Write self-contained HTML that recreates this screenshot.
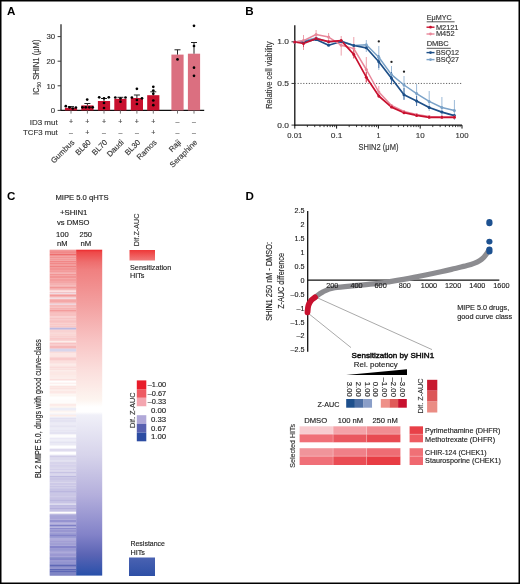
<!DOCTYPE html>
<html><head><meta charset="utf-8"><style>
html,body{margin:0;padding:0;background:#fff;}
svg{display:block;font-family:"Liberation Sans", sans-serif;will-change:transform;}

</style></head><body>
<svg width="520" height="584" viewBox="0 0 520 584">
<rect width="520" height="584" fill="#fff"/>
<text x="7.00" y="14.90" font-size="11.6" text-anchor="start" fill="#000" stroke="#000" stroke-width="0" font-weight="bold" >A</text>
<text x="245.20" y="15.20" font-size="11.6" text-anchor="start" fill="#000" stroke="#000" stroke-width="0" font-weight="bold" >B</text>
<text x="7.00" y="200.30" font-size="11.6" text-anchor="start" fill="#000" stroke="#000" stroke-width="0" font-weight="bold" >C</text>
<text x="245.50" y="200.00" font-size="11.6" text-anchor="start" fill="#000" stroke="#000" stroke-width="0" font-weight="bold" >D</text>
<line x1="61.00" y1="24.20" x2="61.00" y2="111.00" stroke="#3a3a3a" stroke-width="1.4" />
<line x1="60.30" y1="110.40" x2="204.20" y2="110.40" stroke="#111" stroke-width="1.4" />
<line x1="57.60" y1="110.40" x2="61.00" y2="110.40" stroke="#3a3a3a" stroke-width="1" />
<text x="55.20" y="113.20" font-size="7.8" text-anchor="end" fill="#333" stroke="#333" stroke-width="0.14" >0</text>
<line x1="57.60" y1="85.80" x2="61.00" y2="85.80" stroke="#3a3a3a" stroke-width="1" />
<text x="55.20" y="88.60" font-size="7.8" text-anchor="end" fill="#333" stroke="#333" stroke-width="0.14" >10</text>
<line x1="57.60" y1="61.20" x2="61.00" y2="61.20" stroke="#3a3a3a" stroke-width="1" />
<text x="55.20" y="64.00" font-size="7.8" text-anchor="end" fill="#333" stroke="#333" stroke-width="0.14" >20</text>
<line x1="57.60" y1="36.60" x2="61.00" y2="36.60" stroke="#3a3a3a" stroke-width="1" />
<text x="55.20" y="39.40" font-size="7.8" text-anchor="end" fill="#333" stroke="#333" stroke-width="0.14" >30</text>
<rect x="64.90" y="107.80" width="12.20" height="2.60" fill="#c8102e" />
<rect x="81.30" y="105.40" width="12.20" height="5.00" fill="#c8102e" />
<rect x="97.90" y="101.00" width="12.20" height="9.40" fill="#c8102e" />
<rect x="114.30" y="98.80" width="12.20" height="11.60" fill="#c8102e" />
<rect x="130.80" y="98.00" width="12.20" height="12.40" fill="#c8102e" />
<rect x="147.20" y="95.20" width="12.20" height="15.20" fill="#c8102e" />
<rect x="171.40" y="54.60" width="12.20" height="55.80" fill="#db6f80" />
<rect x="187.90" y="53.70" width="12.20" height="56.70" fill="#db6f80" />
<line x1="71.00" y1="110.40" x2="71.00" y2="113.60" stroke="#666" stroke-width="0.9" />
<line x1="71.00" y1="107.80" x2="71.00" y2="106.60" stroke="#222" stroke-width="1" />
<line x1="68.00" y1="106.60" x2="74.00" y2="106.60" stroke="#222" stroke-width="1" />
<line x1="87.40" y1="110.40" x2="87.40" y2="113.60" stroke="#666" stroke-width="0.9" />
<line x1="87.40" y1="105.40" x2="87.40" y2="103.50" stroke="#222" stroke-width="1" />
<line x1="84.40" y1="103.50" x2="90.40" y2="103.50" stroke="#222" stroke-width="1" />
<line x1="104.00" y1="110.40" x2="104.00" y2="113.60" stroke="#666" stroke-width="0.9" />
<line x1="104.00" y1="101.00" x2="104.00" y2="98.50" stroke="#222" stroke-width="1" />
<line x1="101.00" y1="98.50" x2="107.00" y2="98.50" stroke="#222" stroke-width="1" />
<line x1="120.40" y1="110.40" x2="120.40" y2="113.60" stroke="#666" stroke-width="0.9" />
<line x1="120.40" y1="98.80" x2="120.40" y2="97.30" stroke="#222" stroke-width="1" />
<line x1="117.40" y1="97.30" x2="123.40" y2="97.30" stroke="#222" stroke-width="1" />
<line x1="136.90" y1="110.40" x2="136.90" y2="113.60" stroke="#666" stroke-width="0.9" />
<line x1="136.90" y1="98.00" x2="136.90" y2="95.00" stroke="#222" stroke-width="1" />
<line x1="133.90" y1="95.00" x2="139.90" y2="95.00" stroke="#222" stroke-width="1" />
<line x1="153.30" y1="110.40" x2="153.30" y2="113.60" stroke="#666" stroke-width="0.9" />
<line x1="153.30" y1="95.20" x2="153.30" y2="91.80" stroke="#222" stroke-width="1" />
<line x1="150.30" y1="91.80" x2="156.30" y2="91.80" stroke="#222" stroke-width="1" />
<line x1="177.50" y1="110.40" x2="177.50" y2="113.60" stroke="#666" stroke-width="0.9" />
<line x1="177.50" y1="54.60" x2="177.50" y2="49.80" stroke="#222" stroke-width="1" />
<line x1="174.50" y1="49.80" x2="180.50" y2="49.80" stroke="#222" stroke-width="1" />
<line x1="194.00" y1="110.40" x2="194.00" y2="113.60" stroke="#666" stroke-width="0.9" />
<line x1="194.00" y1="53.70" x2="194.00" y2="42.50" stroke="#222" stroke-width="1" />
<line x1="191.00" y1="42.50" x2="197.00" y2="42.50" stroke="#222" stroke-width="1" />
<circle cx="65.80" cy="106.20" r="1.35" fill="#000"/>
<circle cx="69.50" cy="107.30" r="1.35" fill="#000"/>
<circle cx="72.80" cy="108.50" r="1.35" fill="#000"/>
<circle cx="75.90" cy="107.50" r="1.35" fill="#000"/>
<circle cx="82.40" cy="107.30" r="1.35" fill="#000"/>
<circle cx="85.80" cy="107.30" r="1.35" fill="#000"/>
<circle cx="89.30" cy="107.30" r="1.35" fill="#000"/>
<circle cx="92.70" cy="107.30" r="1.35" fill="#000"/>
<circle cx="87.20" cy="99.60" r="1.35" fill="#000"/>
<circle cx="99.20" cy="97.30" r="1.35" fill="#000"/>
<circle cx="104.00" cy="98.30" r="1.35" fill="#000"/>
<circle cx="108.80" cy="97.30" r="1.35" fill="#000"/>
<circle cx="104.00" cy="103.00" r="1.35" fill="#000"/>
<circle cx="104.00" cy="108.00" r="1.35" fill="#000"/>
<circle cx="115.30" cy="97.50" r="1.35" fill="#000"/>
<circle cx="125.50" cy="97.50" r="1.35" fill="#000"/>
<circle cx="120.50" cy="98.50" r="1.35" fill="#000"/>
<circle cx="120.50" cy="101.70" r="1.35" fill="#000"/>
<circle cx="131.90" cy="97.50" r="1.35" fill="#000"/>
<circle cx="136.90" cy="88.80" r="1.35" fill="#000"/>
<circle cx="136.90" cy="100.00" r="1.35" fill="#000"/>
<circle cx="136.90" cy="104.00" r="1.35" fill="#000"/>
<circle cx="142.00" cy="98.30" r="1.35" fill="#000"/>
<circle cx="153.30" cy="86.80" r="1.35" fill="#000"/>
<circle cx="153.30" cy="90.50" r="1.35" fill="#000"/>
<circle cx="153.30" cy="93.80" r="1.35" fill="#000"/>
<circle cx="153.30" cy="100.50" r="1.35" fill="#000"/>
<circle cx="153.30" cy="105.20" r="1.35" fill="#000"/>
<circle cx="177.50" cy="59.40" r="1.35" fill="#000"/>
<circle cx="194.00" cy="25.80" r="1.35" fill="#000"/>
<circle cx="194.00" cy="46.00" r="1.35" fill="#000"/>
<circle cx="194.00" cy="67.70" r="1.35" fill="#000"/>
<circle cx="194.00" cy="75.80" r="1.35" fill="#000"/>
<text x="38.90" y="95.10" font-size="9.2" text-anchor="start" fill="#333" stroke="#333" stroke-width="0.14" textLength="55.6" lengthAdjust="spacingAndGlyphs" transform="rotate(-90 38.90 95.10)" >IC<tspan font-size="6" dy="1.8">50</tspan><tspan dy="-1.8"> SHIN1 (μM)</tspan></text>
<text x="57.70" y="124.60" font-size="7.8" text-anchor="end" fill="#333" stroke="#333" stroke-width="0.14" textLength="28" lengthAdjust="spacingAndGlyphs" >ID3 mut</text>
<text x="57.70" y="135.00" font-size="7.8" text-anchor="end" fill="#333" stroke="#333" stroke-width="0.14" textLength="34.7" lengthAdjust="spacingAndGlyphs" >TCF3 mut</text>
<text x="71.00" y="124.20" font-size="7" text-anchor="middle" fill="#444" stroke="#444" stroke-width="0.14" >+</text>
<text x="71.00" y="134.60" font-size="7" text-anchor="middle" fill="#444" stroke="#444" stroke-width="0.14" >–</text>
<text x="87.40" y="124.20" font-size="7" text-anchor="middle" fill="#444" stroke="#444" stroke-width="0.14" >+</text>
<text x="87.40" y="134.60" font-size="7" text-anchor="middle" fill="#444" stroke="#444" stroke-width="0.14" >+</text>
<text x="104.00" y="124.20" font-size="7" text-anchor="middle" fill="#444" stroke="#444" stroke-width="0.14" >+</text>
<text x="104.00" y="134.60" font-size="7" text-anchor="middle" fill="#444" stroke="#444" stroke-width="0.14" >–</text>
<text x="120.40" y="124.20" font-size="7" text-anchor="middle" fill="#444" stroke="#444" stroke-width="0.14" >+</text>
<text x="120.40" y="134.60" font-size="7" text-anchor="middle" fill="#444" stroke="#444" stroke-width="0.14" >–</text>
<text x="136.90" y="124.20" font-size="7" text-anchor="middle" fill="#444" stroke="#444" stroke-width="0.14" >+</text>
<text x="136.90" y="134.60" font-size="7" text-anchor="middle" fill="#444" stroke="#444" stroke-width="0.14" >–</text>
<text x="153.30" y="124.20" font-size="7" text-anchor="middle" fill="#444" stroke="#444" stroke-width="0.14" >+</text>
<text x="153.30" y="134.60" font-size="7" text-anchor="middle" fill="#444" stroke="#444" stroke-width="0.14" >+</text>
<text x="177.50" y="124.20" font-size="7" text-anchor="middle" fill="#444" stroke="#444" stroke-width="0.14" >–</text>
<text x="177.50" y="134.60" font-size="7" text-anchor="middle" fill="#444" stroke="#444" stroke-width="0.14" >–</text>
<text x="194.00" y="124.20" font-size="7" text-anchor="middle" fill="#444" stroke="#444" stroke-width="0.14" >–</text>
<text x="194.00" y="134.60" font-size="7" text-anchor="middle" fill="#444" stroke="#444" stroke-width="0.14" >–</text>
<text x="74.90" y="142.90" font-size="7.8" text-anchor="end" fill="#333" stroke="#333" stroke-width="0.14" transform="rotate(-45 74.90 142.90)" >Gumbus</text>
<text x="91.30" y="142.90" font-size="7.8" text-anchor="end" fill="#333" stroke="#333" stroke-width="0.14" transform="rotate(-45 91.30 142.90)" >BL60</text>
<text x="107.90" y="142.90" font-size="7.8" text-anchor="end" fill="#333" stroke="#333" stroke-width="0.14" transform="rotate(-45 107.90 142.90)" >BL70</text>
<text x="124.30" y="142.90" font-size="7.8" text-anchor="end" fill="#333" stroke="#333" stroke-width="0.14" transform="rotate(-45 124.30 142.90)" >Daudi</text>
<text x="140.80" y="142.90" font-size="7.8" text-anchor="end" fill="#333" stroke="#333" stroke-width="0.14" transform="rotate(-45 140.80 142.90)" >BL30</text>
<text x="157.20" y="142.90" font-size="7.8" text-anchor="end" fill="#333" stroke="#333" stroke-width="0.14" transform="rotate(-45 157.20 142.90)" >Ramos</text>
<text x="181.40" y="142.90" font-size="7.8" text-anchor="end" fill="#333" stroke="#333" stroke-width="0.14" transform="rotate(-45 181.40 142.90)" >Raji</text>
<text x="197.90" y="142.90" font-size="7.8" text-anchor="end" fill="#333" stroke="#333" stroke-width="0.14" transform="rotate(-45 197.90 142.90)" >Seraphine</text>
<line x1="294.80" y1="25.20" x2="294.80" y2="125.80" stroke="#111" stroke-width="1.3" />
<line x1="294.20" y1="125.10" x2="462.00" y2="125.10" stroke="#111" stroke-width="1.3" />
<line x1="291.50" y1="125.10" x2="294.80" y2="125.10" stroke="#222" stroke-width="0.9" />
<text x="289.00" y="127.70" font-size="7.2" text-anchor="end" fill="#333" stroke="#333" stroke-width="0.14" textLength="11.7" lengthAdjust="spacingAndGlyphs" >0.0</text>
<line x1="291.50" y1="83.45" x2="294.80" y2="83.45" stroke="#222" stroke-width="0.9" />
<text x="289.00" y="86.05" font-size="7.2" text-anchor="end" fill="#333" stroke="#333" stroke-width="0.14" textLength="11.7" lengthAdjust="spacingAndGlyphs" >0.5</text>
<line x1="291.50" y1="41.80" x2="294.80" y2="41.80" stroke="#222" stroke-width="0.9" />
<text x="289.00" y="44.40" font-size="7.2" text-anchor="end" fill="#333" stroke="#333" stroke-width="0.14" textLength="11.7" lengthAdjust="spacingAndGlyphs" >1.0</text>
<line x1="294.80" y1="125.10" x2="294.80" y2="128.60" stroke="#111" stroke-width="1" />
<line x1="307.38" y1="125.10" x2="307.38" y2="127.10" stroke="#111" stroke-width="0.8" />
<line x1="314.74" y1="125.10" x2="314.74" y2="127.10" stroke="#111" stroke-width="0.8" />
<line x1="319.97" y1="125.10" x2="319.97" y2="127.10" stroke="#111" stroke-width="0.8" />
<line x1="324.02" y1="125.10" x2="324.02" y2="127.10" stroke="#111" stroke-width="0.8" />
<line x1="327.33" y1="125.10" x2="327.33" y2="127.10" stroke="#111" stroke-width="0.8" />
<line x1="330.13" y1="125.10" x2="330.13" y2="127.10" stroke="#111" stroke-width="0.8" />
<line x1="332.55" y1="125.10" x2="332.55" y2="127.10" stroke="#111" stroke-width="0.8" />
<line x1="334.69" y1="125.10" x2="334.69" y2="127.10" stroke="#111" stroke-width="0.8" />
<line x1="336.60" y1="125.10" x2="336.60" y2="128.60" stroke="#111" stroke-width="1" />
<line x1="349.18" y1="125.10" x2="349.18" y2="127.10" stroke="#111" stroke-width="0.8" />
<line x1="356.54" y1="125.10" x2="356.54" y2="127.10" stroke="#111" stroke-width="0.8" />
<line x1="361.77" y1="125.10" x2="361.77" y2="127.10" stroke="#111" stroke-width="0.8" />
<line x1="365.82" y1="125.10" x2="365.82" y2="127.10" stroke="#111" stroke-width="0.8" />
<line x1="369.13" y1="125.10" x2="369.13" y2="127.10" stroke="#111" stroke-width="0.8" />
<line x1="371.93" y1="125.10" x2="371.93" y2="127.10" stroke="#111" stroke-width="0.8" />
<line x1="374.35" y1="125.10" x2="374.35" y2="127.10" stroke="#111" stroke-width="0.8" />
<line x1="376.49" y1="125.10" x2="376.49" y2="127.10" stroke="#111" stroke-width="0.8" />
<line x1="378.40" y1="125.10" x2="378.40" y2="128.60" stroke="#111" stroke-width="1" />
<line x1="390.98" y1="125.10" x2="390.98" y2="127.10" stroke="#111" stroke-width="0.8" />
<line x1="398.34" y1="125.10" x2="398.34" y2="127.10" stroke="#111" stroke-width="0.8" />
<line x1="403.57" y1="125.10" x2="403.57" y2="127.10" stroke="#111" stroke-width="0.8" />
<line x1="407.62" y1="125.10" x2="407.62" y2="127.10" stroke="#111" stroke-width="0.8" />
<line x1="410.93" y1="125.10" x2="410.93" y2="127.10" stroke="#111" stroke-width="0.8" />
<line x1="413.73" y1="125.10" x2="413.73" y2="127.10" stroke="#111" stroke-width="0.8" />
<line x1="416.15" y1="125.10" x2="416.15" y2="127.10" stroke="#111" stroke-width="0.8" />
<line x1="418.29" y1="125.10" x2="418.29" y2="127.10" stroke="#111" stroke-width="0.8" />
<line x1="420.20" y1="125.10" x2="420.20" y2="128.60" stroke="#111" stroke-width="1" />
<line x1="432.78" y1="125.10" x2="432.78" y2="127.10" stroke="#111" stroke-width="0.8" />
<line x1="440.14" y1="125.10" x2="440.14" y2="127.10" stroke="#111" stroke-width="0.8" />
<line x1="445.37" y1="125.10" x2="445.37" y2="127.10" stroke="#111" stroke-width="0.8" />
<line x1="449.42" y1="125.10" x2="449.42" y2="127.10" stroke="#111" stroke-width="0.8" />
<line x1="452.73" y1="125.10" x2="452.73" y2="127.10" stroke="#111" stroke-width="0.8" />
<line x1="455.53" y1="125.10" x2="455.53" y2="127.10" stroke="#111" stroke-width="0.8" />
<line x1="457.95" y1="125.10" x2="457.95" y2="127.10" stroke="#111" stroke-width="0.8" />
<line x1="460.09" y1="125.10" x2="460.09" y2="127.10" stroke="#111" stroke-width="0.8" />
<line x1="462.00" y1="125.10" x2="462.00" y2="128.60" stroke="#111" stroke-width="1" />
<text x="294.80" y="137.70" font-size="8" text-anchor="middle" fill="#333" stroke="#333" stroke-width="0.14" textLength="14.9" lengthAdjust="spacingAndGlyphs" >0.01</text>
<text x="336.60" y="137.70" font-size="8" text-anchor="middle" fill="#333" stroke="#333" stroke-width="0.14" textLength="11.7" lengthAdjust="spacingAndGlyphs" >0.1</text>
<text x="378.40" y="137.70" font-size="8" text-anchor="middle" fill="#333" stroke="#333" stroke-width="0.14" textLength="4" lengthAdjust="spacingAndGlyphs" >1</text>
<text x="420.20" y="137.70" font-size="8" text-anchor="middle" fill="#333" stroke="#333" stroke-width="0.14" textLength="8.9" lengthAdjust="spacingAndGlyphs" >10</text>
<text x="462.00" y="137.70" font-size="8" text-anchor="middle" fill="#333" stroke="#333" stroke-width="0.14" textLength="13" lengthAdjust="spacingAndGlyphs" >100</text>
<text x="378.50" y="149.80" font-size="8.3" text-anchor="middle" fill="#333" stroke="#333" stroke-width="0.14" textLength="39.9" lengthAdjust="spacingAndGlyphs" >SHIN2 (μM)</text>
<text x="271.70" y="108.80" font-size="8.8" text-anchor="start" fill="#333" stroke="#333" stroke-width="0.14" textLength="67.2" lengthAdjust="spacingAndGlyphs" transform="rotate(-90 271.70 108.80)" >Relative cell viability</text>
<line x1="294.80" y1="83.45" x2="462.70" y2="83.45" stroke="#555" stroke-width="0.9" stroke-dasharray="1.2 1.6"/>
<line x1="303.50" y1="35.00" x2="303.50" y2="50.00" stroke="#eda0ab" stroke-width="1" />
<line x1="316.10" y1="30.00" x2="316.10" y2="40.00" stroke="#eda0ab" stroke-width="1" />
<line x1="328.60" y1="33.00" x2="328.60" y2="42.00" stroke="#eda0ab" stroke-width="1" />
<line x1="341.20" y1="36.00" x2="341.20" y2="55.60" stroke="#eda0ab" stroke-width="1" />
<line x1="353.80" y1="37.00" x2="353.80" y2="59.00" stroke="#eda0ab" stroke-width="1" />
<line x1="366.30" y1="57.00" x2="366.30" y2="83.00" stroke="#eda0ab" stroke-width="1" />
<line x1="378.80" y1="86.00" x2="378.80" y2="98.00" stroke="#eda0ab" stroke-width="1" />
<line x1="366.30" y1="40.00" x2="366.30" y2="52.00" stroke="#9cbad8" stroke-width="1" />
<line x1="378.80" y1="46.00" x2="378.80" y2="70.00" stroke="#9cbad8" stroke-width="1" />
<line x1="391.50" y1="66.00" x2="391.50" y2="85.00" stroke="#9cbad8" stroke-width="1" />
<line x1="404.00" y1="76.00" x2="404.00" y2="99.00" stroke="#9cbad8" stroke-width="1" />
<line x1="416.60" y1="84.00" x2="416.60" y2="104.00" stroke="#9cbad8" stroke-width="1" />
<line x1="429.20" y1="91.00" x2="429.20" y2="111.00" stroke="#9cbad8" stroke-width="1" />
<line x1="441.90" y1="97.00" x2="441.90" y2="118.00" stroke="#9cbad8" stroke-width="1" />
<line x1="454.40" y1="100.00" x2="454.40" y2="120.00" stroke="#9cbad8" stroke-width="1" />
<line x1="378.80" y1="55.00" x2="378.80" y2="68.00" stroke="#4a74a8" stroke-width="1" />
<line x1="391.50" y1="72.00" x2="391.50" y2="84.00" stroke="#4a74a8" stroke-width="1" />
<line x1="404.00" y1="88.00" x2="404.00" y2="100.00" stroke="#4a74a8" stroke-width="1" />
<line x1="416.60" y1="96.00" x2="416.60" y2="106.00" stroke="#4a74a8" stroke-width="1" />
<line x1="303.50" y1="40.00" x2="303.50" y2="47.00" stroke="#d84a60" stroke-width="1" />
<line x1="353.80" y1="50.00" x2="353.80" y2="58.00" stroke="#d84a60" stroke-width="1" />
<line x1="366.30" y1="72.00" x2="366.30" y2="82.00" stroke="#d84a60" stroke-width="1" />
<polyline points="294.8,42.0 303.5,41.0 316.1,38.0 328.6,42.0 341.2,41.0 353.8,45.5 366.3,44.8 378.8,57.3 391.5,74.6 404.0,85.0 416.6,93.6 429.2,101.4 441.9,107.5 454.4,110.6" fill="none" stroke="#7aa2c8" stroke-width="1.5" stroke-linejoin="round"/>
<polyline points="294.8,42.0 303.5,42.0 316.1,39.4 328.6,45.2 341.2,41.5 353.8,45.5 366.3,47.8 378.8,61.7 391.5,78.3 404.0,94.8 416.6,100.9 429.2,107.5 441.9,112.1 454.4,115.6" fill="none" stroke="#1d4f88" stroke-width="1.7" stroke-linejoin="round"/>
<polyline points="294.8,42.0 303.5,40.6 316.1,34.5 328.6,37.1 341.2,45.2 353.8,48.6 366.3,69.5 378.8,92.1 391.5,105.5 404.0,111.5 416.6,114.5 429.2,116.5 441.9,117.0 454.4,117.0" fill="none" stroke="#e8879a" stroke-width="1.5" stroke-linejoin="round"/>
<polyline points="294.8,42.0 303.5,43.5 316.1,38.6 328.6,41.7 341.2,40.6 353.8,54.4 366.3,77.2 378.8,96.0 391.5,107.1 404.0,112.7 416.6,115.4 429.2,117.3 441.9,117.3 454.4,117.3" fill="none" stroke="#c8102e" stroke-width="1.7" stroke-linejoin="round"/>
<circle cx="294.80" cy="42.00" r="1.5" fill="#7aa2c8"/>
<circle cx="303.50" cy="41.00" r="1.5" fill="#7aa2c8"/>
<circle cx="316.10" cy="38.00" r="1.5" fill="#7aa2c8"/>
<circle cx="328.60" cy="42.00" r="1.5" fill="#7aa2c8"/>
<circle cx="341.20" cy="41.00" r="1.5" fill="#7aa2c8"/>
<circle cx="353.80" cy="45.50" r="1.5" fill="#7aa2c8"/>
<circle cx="366.30" cy="44.80" r="1.5" fill="#7aa2c8"/>
<circle cx="378.80" cy="57.30" r="1.5" fill="#7aa2c8"/>
<circle cx="391.50" cy="74.60" r="1.5" fill="#7aa2c8"/>
<circle cx="404.00" cy="85.00" r="1.5" fill="#7aa2c8"/>
<circle cx="416.60" cy="93.60" r="1.5" fill="#7aa2c8"/>
<circle cx="429.20" cy="101.40" r="1.5" fill="#7aa2c8"/>
<circle cx="441.90" cy="107.50" r="1.5" fill="#7aa2c8"/>
<circle cx="454.40" cy="110.60" r="1.5" fill="#7aa2c8"/>
<circle cx="294.80" cy="42.00" r="1.5" fill="#1d4f88"/>
<circle cx="303.50" cy="42.00" r="1.5" fill="#1d4f88"/>
<circle cx="316.10" cy="39.40" r="1.5" fill="#1d4f88"/>
<circle cx="328.60" cy="45.20" r="1.5" fill="#1d4f88"/>
<circle cx="341.20" cy="41.50" r="1.5" fill="#1d4f88"/>
<circle cx="353.80" cy="45.50" r="1.5" fill="#1d4f88"/>
<circle cx="366.30" cy="47.80" r="1.5" fill="#1d4f88"/>
<circle cx="378.80" cy="61.70" r="1.5" fill="#1d4f88"/>
<circle cx="391.50" cy="78.30" r="1.5" fill="#1d4f88"/>
<circle cx="404.00" cy="94.80" r="1.5" fill="#1d4f88"/>
<circle cx="416.60" cy="100.90" r="1.5" fill="#1d4f88"/>
<circle cx="429.20" cy="107.50" r="1.5" fill="#1d4f88"/>
<circle cx="441.90" cy="112.10" r="1.5" fill="#1d4f88"/>
<circle cx="454.40" cy="115.60" r="1.5" fill="#1d4f88"/>
<circle cx="294.80" cy="42.00" r="1.5" fill="#e8879a"/>
<circle cx="303.50" cy="40.60" r="1.5" fill="#e8879a"/>
<circle cx="316.10" cy="34.50" r="1.5" fill="#e8879a"/>
<circle cx="328.60" cy="37.10" r="1.5" fill="#e8879a"/>
<circle cx="341.20" cy="45.20" r="1.5" fill="#e8879a"/>
<circle cx="353.80" cy="48.60" r="1.5" fill="#e8879a"/>
<circle cx="366.30" cy="69.50" r="1.5" fill="#e8879a"/>
<circle cx="378.80" cy="92.10" r="1.5" fill="#e8879a"/>
<circle cx="391.50" cy="105.50" r="1.5" fill="#e8879a"/>
<circle cx="404.00" cy="111.50" r="1.5" fill="#e8879a"/>
<circle cx="416.60" cy="114.50" r="1.5" fill="#e8879a"/>
<circle cx="429.20" cy="116.50" r="1.5" fill="#e8879a"/>
<circle cx="441.90" cy="117.00" r="1.5" fill="#e8879a"/>
<circle cx="454.40" cy="117.00" r="1.5" fill="#e8879a"/>
<circle cx="294.80" cy="42.00" r="1.5" fill="#c8102e"/>
<circle cx="303.50" cy="43.50" r="1.5" fill="#c8102e"/>
<circle cx="316.10" cy="38.60" r="1.5" fill="#c8102e"/>
<circle cx="328.60" cy="41.70" r="1.5" fill="#c8102e"/>
<circle cx="341.20" cy="40.60" r="1.5" fill="#c8102e"/>
<circle cx="353.80" cy="54.40" r="1.5" fill="#c8102e"/>
<circle cx="366.30" cy="77.20" r="1.5" fill="#c8102e"/>
<circle cx="378.80" cy="96.00" r="1.5" fill="#c8102e"/>
<circle cx="391.50" cy="107.10" r="1.5" fill="#c8102e"/>
<circle cx="404.00" cy="112.70" r="1.5" fill="#c8102e"/>
<circle cx="416.60" cy="115.40" r="1.5" fill="#c8102e"/>
<circle cx="429.20" cy="117.30" r="1.5" fill="#c8102e"/>
<circle cx="441.90" cy="117.30" r="1.5" fill="#c8102e"/>
<circle cx="454.40" cy="117.30" r="1.5" fill="#c8102e"/>
<circle cx="378.80" cy="41.40" r="1.15" fill="#222"/>
<circle cx="391.50" cy="61.90" r="1.15" fill="#222"/>
<circle cx="404.00" cy="71.70" r="1.15" fill="#222"/>
<text x="426.70" y="20.10" font-size="6.9" text-anchor="start" fill="#333" stroke="#333" stroke-width="0.14" textLength="25" lengthAdjust="spacingAndGlyphs" >EμMYC</text>
<line x1="426.70" y1="21.80" x2="454.60" y2="21.80" stroke="#444" stroke-width="0.9" />
<text x="426.70" y="46.30" font-size="6.9" text-anchor="start" fill="#333" stroke="#333" stroke-width="0.14" textLength="22.1" lengthAdjust="spacingAndGlyphs" >DMBC</text>
<line x1="426.70" y1="48.30" x2="450.80" y2="48.30" stroke="#444" stroke-width="0.9" />
<line x1="426.50" y1="27.20" x2="434.50" y2="27.20" stroke="#c8102e" stroke-width="1.4" />
<circle cx="430.50" cy="27.20" r="1.4" fill="#c8102e"/>
<text x="435.90" y="29.60" font-size="6.9" text-anchor="start" fill="#333" stroke="#333" stroke-width="0.14" textLength="22.6" lengthAdjust="spacingAndGlyphs" >M2121</text>
<line x1="426.50" y1="34.00" x2="434.50" y2="34.00" stroke="#e8879a" stroke-width="1.4" />
<circle cx="430.50" cy="34.00" r="1.4" fill="#e8879a"/>
<text x="435.90" y="36.40" font-size="6.9" text-anchor="start" fill="#333" stroke="#333" stroke-width="0.14" textLength="18.7" lengthAdjust="spacingAndGlyphs" >M452</text>
<line x1="426.50" y1="52.60" x2="434.50" y2="52.60" stroke="#1d4f88" stroke-width="1.4" />
<circle cx="430.50" cy="52.60" r="1.4" fill="#1d4f88"/>
<text x="435.90" y="55.00" font-size="6.9" text-anchor="start" fill="#333" stroke="#333" stroke-width="0.14" textLength="23" lengthAdjust="spacingAndGlyphs" >BSQ12</text>
<line x1="426.50" y1="59.60" x2="434.50" y2="59.60" stroke="#7aa2c8" stroke-width="1.4" />
<circle cx="430.50" cy="59.60" r="1.4" fill="#7aa2c8"/>
<text x="435.90" y="62.00" font-size="6.9" text-anchor="start" fill="#333" stroke="#333" stroke-width="0.14" textLength="23" lengthAdjust="spacingAndGlyphs" >BSQ27</text>
<text x="82.00" y="199.70" font-size="7.2" text-anchor="middle" fill="#222" stroke="#222" stroke-width="0.14" textLength="53.2" lengthAdjust="spacingAndGlyphs" >MIPE 5.0 qHTS</text>
<text x="73.70" y="215.30" font-size="7.2" text-anchor="middle" fill="#222" stroke="#222" stroke-width="0.14" textLength="27.5" lengthAdjust="spacingAndGlyphs" >+SHIN1</text>
<text x="73.20" y="224.70" font-size="7.2" text-anchor="middle" fill="#222" stroke="#222" stroke-width="0.14" textLength="32.5" lengthAdjust="spacingAndGlyphs" >vs DMSO</text>
<text x="62.40" y="236.60" font-size="7.2" text-anchor="middle" fill="#222" stroke="#222" stroke-width="0.14" textLength="12.7" lengthAdjust="spacingAndGlyphs" >100</text>
<text x="85.80" y="236.60" font-size="7.2" text-anchor="middle" fill="#222" stroke="#222" stroke-width="0.14" textLength="12.5" lengthAdjust="spacingAndGlyphs" >250</text>
<text x="62.30" y="246.10" font-size="7.2" text-anchor="middle" fill="#222" stroke="#222" stroke-width="0.14" textLength="10.5" lengthAdjust="spacingAndGlyphs" >nM</text>
<text x="85.90" y="246.10" font-size="7.2" text-anchor="middle" fill="#222" stroke="#222" stroke-width="0.14" textLength="10.7" lengthAdjust="spacingAndGlyphs" >nM</text>
<defs><linearGradient id="g2" x1="0" y1="0" x2="0" y2="1"><stop offset="0.0000" stop-color="#ec282c"/><stop offset="0.0071" stop-color="#ee4848"/><stop offset="0.0377" stop-color="#ee6e6e"/><stop offset="0.0623" stop-color="#f08080"/><stop offset="0.1697" stop-color="#f3a0a0"/><stop offset="0.2771" stop-color="#f8c3c3"/><stop offset="0.3691" stop-color="#fbdedc"/><stop offset="0.4612" stop-color="#fdf5f0"/><stop offset="0.4827" stop-color="#ffffff"/><stop offset="0.4980" stop-color="#ffffff"/><stop offset="0.5072" stop-color="#f0f0f8"/><stop offset="0.6299" stop-color="#d7d4eb"/><stop offset="0.7527" stop-color="#b4afdc"/><stop offset="0.8754" stop-color="#8282c8"/><stop offset="0.9368" stop-color="#5a64b4"/><stop offset="1.0000" stop-color="#2850aa"/></linearGradient></defs>
<rect x="76.10" y="249.70" width="26.10" height="325.90" fill="url(#g2)" />
<rect x="49.70" y="249.70" width="26.40" height="1.05" fill="#f18f8f" />
<rect x="49.70" y="250.70" width="26.40" height="1.05" fill="#ee6d6d" />
<rect x="49.70" y="251.70" width="26.40" height="2.05" fill="#f18888" />
<rect x="49.70" y="253.70" width="26.40" height="2.05" fill="#ee6d6d" />
<rect x="49.70" y="255.70" width="26.40" height="1.05" fill="#f19090" />
<rect x="49.70" y="256.70" width="26.40" height="2.05" fill="#f29393" />
<rect x="49.70" y="258.70" width="26.40" height="2.05" fill="#f29a9a" />
<rect x="49.70" y="260.70" width="26.40" height="2.05" fill="#f18787" />
<rect x="49.70" y="262.70" width="26.40" height="2.05" fill="#f18888" />
<rect x="49.70" y="264.70" width="26.40" height="1.05" fill="#f18d8d" />
<rect x="49.70" y="265.70" width="26.40" height="2.05" fill="#f08282" />
<rect x="49.70" y="267.70" width="26.40" height="3.05" fill="#f29393" />
<rect x="49.70" y="270.70" width="26.40" height="1.05" fill="#f08181" />
<rect x="49.70" y="271.70" width="26.40" height="1.05" fill="#f29393" />
<rect x="49.70" y="272.70" width="26.40" height="1.05" fill="#f5acac" />
<rect x="49.70" y="273.70" width="26.40" height="2.05" fill="#f29494" />
<rect x="49.70" y="275.70" width="26.40" height="3.05" fill="#f29595" />
<rect x="49.70" y="278.70" width="26.40" height="3.05" fill="#f39d9d" />
<rect x="49.70" y="281.70" width="26.40" height="1.05" fill="#f08484" />
<rect x="49.70" y="282.70" width="26.40" height="3.05" fill="#f5b1b1" />
<rect x="49.70" y="285.70" width="26.40" height="1.05" fill="#f4aaaa" />
<rect x="49.70" y="286.70" width="26.40" height="2.05" fill="#f29898" />
<rect x="49.70" y="288.70" width="26.40" height="1.05" fill="#f4a7a7" />
<rect x="49.70" y="289.70" width="26.40" height="1.05" fill="#f6b4b4" />
<rect x="49.70" y="290.70" width="26.40" height="1.05" fill="#ffffff" />
<rect x="49.70" y="291.70" width="26.40" height="1.05" fill="#f39d9d" />
<rect x="49.70" y="292.70" width="26.40" height="1.05" fill="#e7e6f3" />
<rect x="49.70" y="293.70" width="26.40" height="1.05" fill="#f6b4b4" />
<rect x="49.70" y="294.70" width="26.40" height="2.05" fill="#f39b9b" />
<rect x="49.70" y="296.70" width="26.40" height="1.05" fill="#f5aeae" />
<rect x="49.70" y="297.70" width="26.40" height="1.05" fill="#efeff8" />
<rect x="49.70" y="298.70" width="26.40" height="1.05" fill="#f4a9a9" />
<rect x="49.70" y="299.70" width="26.40" height="3.05" fill="#f4a7a7" />
<rect x="49.70" y="302.70" width="26.40" height="1.05" fill="#f5abab" />
<rect x="49.70" y="303.70" width="26.40" height="1.05" fill="#e9e8f4" />
<rect x="49.70" y="304.70" width="26.40" height="1.05" fill="#f3a3a3" />
<rect x="49.70" y="305.70" width="26.40" height="2.05" fill="#f7bcbc" />
<rect x="49.70" y="307.70" width="26.40" height="2.05" fill="#f6b2b2" />
<rect x="49.70" y="309.70" width="26.40" height="2.05" fill="#f39c9c" />
<rect x="49.70" y="311.70" width="26.40" height="1.05" fill="#f4a9a9" />
<rect x="49.70" y="312.70" width="26.40" height="1.05" fill="#f7b9b9" />
<rect x="49.70" y="313.70" width="26.40" height="1.05" fill="#f5adad" />
<rect x="49.70" y="314.70" width="26.40" height="2.05" fill="#f8c1c1" />
<rect x="49.70" y="316.70" width="26.40" height="1.05" fill="#fad5d3" />
<rect x="49.70" y="317.70" width="26.40" height="1.05" fill="#f5b1b1" />
<rect x="49.70" y="318.70" width="26.40" height="1.05" fill="#f8c2c2" />
<rect x="49.70" y="319.70" width="26.40" height="1.05" fill="#f8c3c3" />
<rect x="49.70" y="320.70" width="26.40" height="1.05" fill="#f5acac" />
<rect x="49.70" y="321.70" width="26.40" height="2.05" fill="#f8c7c7" />
<rect x="49.70" y="323.70" width="26.40" height="2.05" fill="#f9c9c8" />
<rect x="49.70" y="325.70" width="26.40" height="2.05" fill="#f8c7c6" />
<rect x="49.70" y="327.70" width="26.40" height="2.05" fill="#bdb8e0" />
<rect x="49.70" y="329.70" width="26.40" height="1.05" fill="#f9cbca" />
<rect x="49.70" y="330.70" width="26.40" height="1.05" fill="#f8c7c7" />
<rect x="49.70" y="331.70" width="26.40" height="1.05" fill="#f9cecd" />
<rect x="49.70" y="332.70" width="26.40" height="1.05" fill="#f9d0cf" />
<rect x="49.70" y="333.70" width="26.40" height="2.05" fill="#fad6d4" />
<rect x="49.70" y="335.70" width="26.40" height="1.05" fill="#f8c3c3" />
<rect x="49.70" y="336.70" width="26.40" height="1.05" fill="#f9cccb" />
<rect x="49.70" y="337.70" width="26.40" height="2.05" fill="#f9c9c9" />
<rect x="49.70" y="339.70" width="26.40" height="1.05" fill="#f6b8b8" />
<rect x="49.70" y="340.70" width="26.40" height="1.05" fill="#fdf2ed" />
<rect x="49.70" y="341.70" width="26.40" height="1.05" fill="#fbdddb" />
<rect x="49.70" y="342.70" width="26.40" height="2.05" fill="#f8c3c3" />
<rect x="49.70" y="344.70" width="26.40" height="1.05" fill="#f8c5c5" />
<rect x="49.70" y="345.70" width="26.40" height="3.05" fill="#f6b8b8" />
<rect x="49.70" y="348.70" width="26.40" height="3.05" fill="#d8d5eb" />
<rect x="49.70" y="351.70" width="26.40" height="1.05" fill="#f9cecd" />
<rect x="49.70" y="352.70" width="26.40" height="1.05" fill="#fbe3e1" />
<rect x="49.70" y="353.70" width="26.40" height="1.05" fill="#fbdedc" />
<rect x="49.70" y="354.70" width="26.40" height="2.05" fill="#fce6e3" />
<rect x="49.70" y="356.70" width="26.40" height="1.05" fill="#fad1d0" />
<rect x="49.70" y="357.70" width="26.40" height="3.05" fill="#f9cbcb" />
<rect x="49.70" y="360.70" width="26.40" height="1.05" fill="#fbdad8" />
<rect x="49.70" y="361.70" width="26.40" height="1.05" fill="#fad6d5" />
<rect x="49.70" y="362.70" width="26.40" height="1.05" fill="#fbdedc" />
<rect x="49.70" y="363.70" width="26.40" height="1.05" fill="#fce7e3" />
<rect x="49.70" y="364.70" width="26.40" height="2.05" fill="#fce9e6" />
<rect x="49.70" y="366.70" width="26.40" height="1.05" fill="#f9c9c9" />
<rect x="49.70" y="367.70" width="26.40" height="1.05" fill="#fce8e5" />
<rect x="49.70" y="368.70" width="26.40" height="1.05" fill="#f9cfce" />
<rect x="49.70" y="369.70" width="26.40" height="1.05" fill="#fceae6" />
<rect x="49.70" y="370.70" width="26.40" height="1.05" fill="#fce9e5" />
<rect x="49.70" y="371.70" width="26.40" height="1.05" fill="#fbe0de" />
<rect x="49.70" y="372.70" width="26.40" height="3.05" fill="#fce8e4" />
<rect x="49.70" y="375.70" width="26.40" height="1.05" fill="#fce7e4" />
<rect x="49.70" y="376.70" width="26.40" height="1.05" fill="#fce6e3" />
<rect x="49.70" y="377.70" width="26.40" height="1.05" fill="#fceeea" />
<rect x="49.70" y="378.70" width="26.40" height="2.05" fill="#fbe0de" />
<rect x="49.70" y="380.70" width="26.40" height="2.05" fill="#ffffff" />
<rect x="49.70" y="382.70" width="26.40" height="1.05" fill="#fce8e5" />
<rect x="49.70" y="383.70" width="26.40" height="2.05" fill="#fefcfa" />
<rect x="49.70" y="385.70" width="26.40" height="2.05" fill="#fce5e2" />
<rect x="49.70" y="387.70" width="26.40" height="2.05" fill="#fbe4e1" />
<rect x="49.70" y="389.70" width="26.40" height="1.05" fill="#fdf0ec" />
<rect x="49.70" y="390.70" width="26.40" height="3.05" fill="#fce8e5" />
<rect x="49.70" y="393.70" width="26.40" height="1.05" fill="#fdf6f1" />
<rect x="49.70" y="394.70" width="26.40" height="2.05" fill="#fdf6f2" />
<rect x="49.70" y="396.70" width="26.40" height="3.05" fill="#fffefd" />
<rect x="49.70" y="399.70" width="26.40" height="3.05" fill="#fefcfb" />
<rect x="49.70" y="402.70" width="26.40" height="1.05" fill="#fefbf9" />
<rect x="49.70" y="403.70" width="26.40" height="1.05" fill="#fcece8" />
<rect x="49.70" y="404.70" width="26.40" height="1.05" fill="#fbe2df" />
<rect x="49.70" y="405.70" width="26.40" height="2.05" fill="#fdf4ef" />
<rect x="49.70" y="407.70" width="26.40" height="3.05" fill="#ededf6" />
<rect x="49.70" y="410.70" width="26.40" height="1.05" fill="#fdf0ec" />
<rect x="49.70" y="411.70" width="26.40" height="2.05" fill="#fefaf7" />
<rect x="49.70" y="413.70" width="26.40" height="1.05" fill="#f0eff8" />
<rect x="49.70" y="414.70" width="26.40" height="2.05" fill="#fcede9" />
<rect x="49.70" y="416.70" width="26.40" height="1.05" fill="#f0f0f8" />
<rect x="49.70" y="417.70" width="26.40" height="2.05" fill="#e2e0f1" />
<rect x="49.70" y="419.70" width="26.40" height="3.05" fill="#e4e3f2" />
<rect x="49.70" y="422.70" width="26.40" height="2.05" fill="#ecebf6" />
<rect x="49.70" y="424.70" width="26.40" height="1.05" fill="#e3e2f1" />
<rect x="49.70" y="425.70" width="26.40" height="2.05" fill="#e5e4f2" />
<rect x="49.70" y="427.70" width="26.40" height="2.05" fill="#ececf6" />
<rect x="49.70" y="429.70" width="26.40" height="1.05" fill="#e1e0f0" />
<rect x="49.70" y="430.70" width="26.40" height="1.05" fill="#e6e5f3" />
<rect x="49.70" y="431.70" width="26.40" height="1.05" fill="#e4e3f2" />
<rect x="49.70" y="432.70" width="26.40" height="1.05" fill="#d7d4eb" />
<rect x="49.70" y="433.70" width="26.40" height="1.05" fill="#ededf7" />
<rect x="49.70" y="434.70" width="26.40" height="1.05" fill="#fefbfa" />
<rect x="49.70" y="435.70" width="26.40" height="2.05" fill="#fcfcfe" />
<rect x="49.70" y="437.70" width="26.40" height="1.05" fill="#e6e4f3" />
<rect x="49.70" y="438.70" width="26.40" height="1.05" fill="#e9e8f4" />
<rect x="49.70" y="439.70" width="26.40" height="1.05" fill="#f0f0f8" />
<rect x="49.70" y="440.70" width="26.40" height="1.05" fill="#e7e6f3" />
<rect x="49.70" y="441.70" width="26.40" height="2.05" fill="#e4e3f2" />
<rect x="49.70" y="443.70" width="26.40" height="2.05" fill="#ebeaf5" />
<rect x="49.70" y="445.70" width="26.40" height="3.05" fill="#fefeff" />
<rect x="49.70" y="448.70" width="26.40" height="1.05" fill="#d8d5eb" />
<rect x="49.70" y="449.70" width="26.40" height="1.05" fill="#d6d2ea" />
<rect x="49.70" y="450.70" width="26.40" height="1.05" fill="#dddaee" />
<rect x="49.70" y="451.70" width="26.40" height="1.05" fill="#ffffff" />
<rect x="49.70" y="452.70" width="26.40" height="2.05" fill="#ffffff" />
<rect x="49.70" y="454.70" width="26.40" height="1.05" fill="#e2e0f1" />
<rect x="49.70" y="455.70" width="26.40" height="2.05" fill="#d1cde8" />
<rect x="49.70" y="457.70" width="26.40" height="3.05" fill="#dddbee" />
<rect x="49.70" y="460.70" width="26.40" height="1.05" fill="#dfddef" />
<rect x="49.70" y="461.70" width="26.40" height="3.05" fill="#d7d4eb" />
<rect x="49.70" y="464.70" width="26.40" height="1.05" fill="#ccc8e6" />
<rect x="49.70" y="465.70" width="26.40" height="1.05" fill="#cdc9e7" />
<rect x="49.70" y="466.70" width="26.40" height="1.05" fill="#d1cde8" />
<rect x="49.70" y="467.70" width="26.40" height="1.05" fill="#d3d0e9" />
<rect x="49.70" y="468.70" width="26.40" height="2.05" fill="#d4d0ea" />
<rect x="49.70" y="470.70" width="26.40" height="1.05" fill="#d9d6ec" />
<rect x="49.70" y="471.70" width="26.40" height="2.05" fill="#c7c3e4" />
<rect x="49.70" y="473.70" width="26.40" height="2.05" fill="#dad7ed" />
<rect x="49.70" y="475.70" width="26.40" height="2.05" fill="#bdb9e0" />
<rect x="49.70" y="477.70" width="26.40" height="3.05" fill="#c9c5e5" />
<rect x="49.70" y="480.70" width="26.40" height="1.05" fill="#c0bce1" />
<rect x="49.70" y="481.70" width="26.40" height="1.05" fill="#d3d0e9" />
<rect x="49.70" y="482.70" width="26.40" height="3.05" fill="#cdc9e7" />
<rect x="49.70" y="485.70" width="26.40" height="2.05" fill="#c9c5e5" />
<rect x="49.70" y="487.70" width="26.40" height="1.05" fill="#c8c4e5" />
<rect x="49.70" y="488.70" width="26.40" height="1.05" fill="#bab6df" />
<rect x="49.70" y="489.70" width="26.40" height="1.05" fill="#bdb8e0" />
<rect x="49.70" y="490.70" width="26.40" height="2.05" fill="#bbb7df" />
<rect x="49.70" y="492.70" width="26.40" height="1.05" fill="#bab6df" />
<rect x="49.70" y="493.70" width="26.40" height="3.05" fill="#cac6e5" />
<rect x="49.70" y="496.70" width="26.40" height="1.05" fill="#bebae0" />
<rect x="49.70" y="497.70" width="26.40" height="1.05" fill="#bebae0" />
<rect x="49.70" y="498.70" width="26.40" height="1.05" fill="#b6b1dd" />
<rect x="49.70" y="499.70" width="26.40" height="2.05" fill="#bcb8df" />
<rect x="49.70" y="501.70" width="26.40" height="1.05" fill="#bcb8e0" />
<rect x="49.70" y="502.70" width="26.40" height="1.05" fill="#bfbbe1" />
<rect x="49.70" y="503.70" width="26.40" height="1.05" fill="#ebeaf5" />
<rect x="49.70" y="504.70" width="26.40" height="1.05" fill="#b0acdb" />
<rect x="49.70" y="505.70" width="26.40" height="1.05" fill="#b1acdb" />
<rect x="49.70" y="506.70" width="26.40" height="1.05" fill="#b8b3de" />
<rect x="49.70" y="507.70" width="26.40" height="2.05" fill="#b4afdc" />
<rect x="49.70" y="509.70" width="26.40" height="1.05" fill="#bdb9e0" />
<rect x="49.70" y="510.70" width="26.40" height="1.05" fill="#b4afdc" />
<rect x="49.70" y="511.70" width="26.40" height="2.05" fill="#fffefd" />
<rect x="49.70" y="513.70" width="26.40" height="1.05" fill="#b7b3dd" />
<rect x="49.70" y="514.70" width="26.40" height="1.05" fill="#a29fd5" />
<rect x="49.70" y="515.70" width="26.40" height="1.05" fill="#8b8acb" />
<rect x="49.70" y="516.70" width="26.40" height="3.05" fill="#a8a4d7" />
<rect x="49.70" y="519.70" width="26.40" height="3.05" fill="#9593d0" />
<rect x="49.70" y="522.70" width="26.40" height="1.05" fill="#ada9d9" />
<rect x="49.70" y="523.70" width="26.40" height="1.05" fill="#a6a2d6" />
<rect x="49.70" y="524.70" width="26.40" height="2.05" fill="#7e7fc6" />
<rect x="49.70" y="526.70" width="26.40" height="1.05" fill="#bbb6df" />
<rect x="49.70" y="527.70" width="26.40" height="2.05" fill="#8c8bcc" />
<rect x="49.70" y="529.70" width="26.40" height="3.05" fill="#9997d1" />
<rect x="49.70" y="532.70" width="26.40" height="1.05" fill="#908fce" />
<rect x="49.70" y="533.70" width="26.40" height="1.05" fill="#7c7dc5" />
<rect x="49.70" y="534.70" width="26.40" height="2.05" fill="#8484c9" />
<rect x="49.70" y="536.70" width="26.40" height="1.05" fill="#7e7fc6" />
<rect x="49.70" y="537.70" width="26.40" height="1.05" fill="#9d9bd3" />
<rect x="49.70" y="538.70" width="26.40" height="1.05" fill="#a4a0d6" />
<rect x="49.70" y="539.70" width="26.40" height="1.05" fill="#9694d0" />
<rect x="49.70" y="540.70" width="26.40" height="2.05" fill="#a39fd5" />
<rect x="49.70" y="542.70" width="26.40" height="1.05" fill="#8383c8" />
<rect x="49.70" y="543.70" width="26.40" height="2.05" fill="#a19ed4" />
<rect x="49.70" y="545.70" width="26.40" height="3.05" fill="#8685ca" />
<rect x="49.70" y="548.70" width="26.40" height="1.05" fill="#8a89cb" />
<rect x="49.70" y="549.70" width="26.40" height="1.05" fill="#777ac3" />
<rect x="49.70" y="550.70" width="26.40" height="2.05" fill="#a6a3d7" />
<rect x="49.70" y="552.70" width="26.40" height="1.05" fill="#8988cb" />
<rect x="49.70" y="553.70" width="26.40" height="3.05" fill="#9b98d2" />
<rect x="49.70" y="556.70" width="26.40" height="1.05" fill="#8887ca" />
<rect x="49.70" y="557.70" width="26.40" height="1.05" fill="#5d66b5" />
<rect x="49.70" y="558.70" width="26.40" height="2.05" fill="#8484c9" />
<rect x="49.70" y="560.70" width="26.40" height="1.05" fill="#8a89cb" />
<rect x="49.70" y="561.70" width="26.40" height="1.05" fill="#7679c2" />
<rect x="49.70" y="562.70" width="26.40" height="1.05" fill="#8786ca" />
<rect x="49.70" y="563.70" width="26.40" height="1.05" fill="#7276c0" />
<rect x="49.70" y="564.70" width="26.40" height="2.05" fill="#5f67b6" />
<rect x="49.70" y="566.70" width="26.40" height="1.05" fill="#6d72bd" />
<rect x="49.70" y="567.70" width="26.40" height="1.05" fill="#908ecd" />
<rect x="49.70" y="568.70" width="26.40" height="2.05" fill="#5d66b5" />
<rect x="49.70" y="570.70" width="26.40" height="2.05" fill="#5e67b6" />
<rect x="49.70" y="572.70" width="26.40" height="1.05" fill="#686ebb" />
<rect x="49.70" y="573.70" width="26.40" height="1.05" fill="#626ab8" />
<rect x="49.70" y="574.70" width="26.40" height="0.95" fill="#696fbb" />
<defs><linearGradient id="gs" x1="0" y1="0" x2="0" y2="1"><stop offset="0" stop-color="#ee3838"/><stop offset="1" stop-color="#f07a7a"/></linearGradient></defs>
<rect x="129.50" y="250.00" width="25.50" height="10.50" fill="url(#gs)" />
<text x="138.60" y="246.20" font-size="7" text-anchor="start" fill="#333" stroke="#333" stroke-width="0.14" textLength="32.5" lengthAdjust="spacingAndGlyphs" transform="rotate(-90 138.60 246.20)" >Dif.Z-AUC</text>
<text x="130.00" y="269.60" font-size="7.2" text-anchor="start" fill="#222" stroke="#222" stroke-width="0.14" textLength="41.2" lengthAdjust="spacingAndGlyphs" >Sensitization</text>
<text x="130.00" y="278.00" font-size="7.2" text-anchor="start" fill="#222" stroke="#222" stroke-width="0.14" textLength="14.5" lengthAdjust="spacingAndGlyphs" >HITs</text>
<text x="130.40" y="546.40" font-size="7.2" text-anchor="start" fill="#222" stroke="#222" stroke-width="0.14" textLength="34.6" lengthAdjust="spacingAndGlyphs" >Resistance</text>
<text x="130.40" y="555.00" font-size="7.2" text-anchor="start" fill="#222" stroke="#222" stroke-width="0.14" textLength="14.5" lengthAdjust="spacingAndGlyphs" >HITs</text>
<defs><linearGradient id="gr" x1="0" y1="0" x2="0" y2="1"><stop offset="0" stop-color="#4a62b2"/><stop offset="1" stop-color="#2e50a6"/></linearGradient></defs>
<rect x="129.00" y="557.50" width="26.00" height="18.50" fill="url(#gr)" />
<rect x="136.80" y="380.40" width="9.50" height="8.70" fill="#e81c2a" />
<text x="166.20" y="387.00" font-size="7.2" text-anchor="end" fill="#222" stroke="#222" stroke-width="0.14" textLength="18.5" lengthAdjust="spacingAndGlyphs" >–1.00</text>
<rect x="136.80" y="389.10" width="9.50" height="8.70" fill="#ee5a62" />
<text x="166.20" y="395.70" font-size="7.2" text-anchor="end" fill="#222" stroke="#222" stroke-width="0.14" textLength="18.5" lengthAdjust="spacingAndGlyphs" >–0.67</text>
<rect x="136.80" y="397.80" width="9.50" height="8.70" fill="#f4a6b0" />
<text x="166.20" y="404.40" font-size="7.2" text-anchor="end" fill="#222" stroke="#222" stroke-width="0.14" textLength="18.5" lengthAdjust="spacingAndGlyphs" >–0.33</text>
<rect x="136.80" y="406.50" width="9.50" height="8.70" fill="#ffffff" />
<text x="166.20" y="413.10" font-size="7.2" text-anchor="end" fill="#222" stroke="#222" stroke-width="0.14" textLength="15.2" lengthAdjust="spacingAndGlyphs" >0.00</text>
<rect x="136.80" y="415.20" width="9.50" height="8.70" fill="#b0a8d8" />
<text x="166.20" y="421.80" font-size="7.2" text-anchor="end" fill="#222" stroke="#222" stroke-width="0.14" textLength="15.2" lengthAdjust="spacingAndGlyphs" >0.33</text>
<rect x="136.80" y="423.90" width="9.50" height="8.70" fill="#5860b0" />
<text x="166.20" y="430.50" font-size="7.2" text-anchor="end" fill="#222" stroke="#222" stroke-width="0.14" textLength="15.2" lengthAdjust="spacingAndGlyphs" >0.67</text>
<rect x="136.80" y="432.60" width="9.50" height="8.70" fill="#2c4ca2" />
<text x="166.20" y="439.20" font-size="7.2" text-anchor="end" fill="#222" stroke="#222" stroke-width="0.14" textLength="15.2" lengthAdjust="spacingAndGlyphs" >1.00</text>
<text x="134.80" y="428.00" font-size="7" text-anchor="start" fill="#333" stroke="#333" stroke-width="0.14" textLength="35.5" lengthAdjust="spacingAndGlyphs" transform="rotate(-90 134.80 428.00)" >Dif. Z-AUC</text>
<text x="41.40" y="478.00" font-size="8.6" text-anchor="start" fill="#222" stroke="#222" stroke-width="0.14" textLength="139" lengthAdjust="spacingAndGlyphs" transform="rotate(-90 41.40 478.00)" >BL2 MIPE 5.0, drugs with good curve-class</text>
<line x1="307.70" y1="211.00" x2="307.70" y2="351.80" stroke="#111" stroke-width="1.3" />
<line x1="307.70" y1="280.20" x2="499.30" y2="280.20" stroke="#111" stroke-width="1.3" />
<text x="304.50" y="213.30" font-size="7.2" text-anchor="end" fill="#222" stroke="#222" stroke-width="0.14" >2.5</text>
<text x="304.50" y="227.20" font-size="7.2" text-anchor="end" fill="#222" stroke="#222" stroke-width="0.14" >2</text>
<text x="304.50" y="241.10" font-size="7.2" text-anchor="end" fill="#222" stroke="#222" stroke-width="0.14" >1.5</text>
<text x="304.50" y="255.00" font-size="7.2" text-anchor="end" fill="#222" stroke="#222" stroke-width="0.14" >1</text>
<text x="304.50" y="268.90" font-size="7.2" text-anchor="end" fill="#222" stroke="#222" stroke-width="0.14" >0.5</text>
<text x="304.50" y="282.80" font-size="7.2" text-anchor="end" fill="#222" stroke="#222" stroke-width="0.14" >0</text>
<text x="304.50" y="296.70" font-size="7.2" text-anchor="end" fill="#222" stroke="#222" stroke-width="0.14" >–0.5</text>
<text x="304.50" y="310.60" font-size="7.2" text-anchor="end" fill="#222" stroke="#222" stroke-width="0.14" >–1</text>
<text x="304.50" y="324.50" font-size="7.2" text-anchor="end" fill="#222" stroke="#222" stroke-width="0.14" >–1.5</text>
<text x="304.50" y="338.40" font-size="7.2" text-anchor="end" fill="#222" stroke="#222" stroke-width="0.14" >–2</text>
<text x="304.50" y="352.30" font-size="7.2" text-anchor="end" fill="#222" stroke="#222" stroke-width="0.14" >–2.5</text>
<text x="272.10" y="320.80" font-size="8.8" text-anchor="start" fill="#222" stroke="#222" stroke-width="0.14" textLength="78.8" lengthAdjust="spacingAndGlyphs" transform="rotate(-90 272.10 320.80)" >SHIN1 250 nM - DMSO:</text>
<text x="283.80" y="308.80" font-size="8.8" text-anchor="start" fill="#222" stroke="#222" stroke-width="0.14" textLength="55.7" lengthAdjust="spacingAndGlyphs" transform="rotate(-90 283.80 308.80)" >Z-AUC difference</text>
<line x1="316.00" y1="297.20" x2="432.00" y2="349.60" stroke="#aaa" stroke-width="1" />
<line x1="307.90" y1="313.00" x2="351.00" y2="347.60" stroke="#aaa" stroke-width="1" />
<path d="M315.00,297.30 C316.33,296.38 319.73,293.38 323.00,291.80 C326.27,290.22 328.82,288.87 334.60,287.80 C340.38,286.73 350.38,286.15 357.70,285.40 C365.02,284.65 373.12,283.93 378.50,283.30 C383.88,282.67 384.10,282.58 390.00,281.60 C395.90,280.62 405.42,279.03 413.90,277.40 C422.38,275.77 434.05,273.28 440.90,271.80 C447.75,270.32 450.65,269.53 455.00,268.50 C459.35,267.47 463.83,266.45 467.00,265.60 C470.17,264.75 471.92,264.20 474.00,263.40 C476.08,262.60 477.92,261.77 479.50,260.80 C481.08,259.83 482.32,258.77 483.50,257.60 C484.68,256.43 485.75,255.00 486.60,253.80 C487.45,252.60 488.27,250.97 488.60,250.40" fill="none" stroke="#8c8c90" stroke-width="5.2" stroke-linecap="round"/>
<path d="M307.50,312.40 C307.65,311.25 307.77,307.52 308.40,305.50 C309.03,303.48 310.20,301.67 311.30,300.30 C312.40,298.93 314.38,297.80 315.00,297.30" fill="none" stroke="#c8102e" stroke-width="5.8" stroke-linecap="round"/>
<rect x="486.3" y="218.9" width="6.2" height="7.40" rx="3.1" ry="3" fill="#1d5190"/>
<rect x="486.3" y="238.7" width="6.2" height="5.80" rx="3.1" ry="3" fill="#1d5190"/>
<rect x="486.3" y="246.4" width="6.2" height="8.00" rx="3.1" ry="3" fill="#1d5190"/>
<text x="332.35" y="288.40" font-size="7.3" text-anchor="middle" fill="#222" stroke="#222" stroke-width="0.14" >200</text>
<text x="356.50" y="288.40" font-size="7.3" text-anchor="middle" fill="#222" stroke="#222" stroke-width="0.14" >400</text>
<text x="380.65" y="288.40" font-size="7.3" text-anchor="middle" fill="#222" stroke="#222" stroke-width="0.14" >600</text>
<text x="404.80" y="288.40" font-size="7.3" text-anchor="middle" fill="#222" stroke="#222" stroke-width="0.14" >800</text>
<text x="428.95" y="288.40" font-size="7.3" text-anchor="middle" fill="#222" stroke="#222" stroke-width="0.14" >1000</text>
<text x="453.10" y="288.40" font-size="7.3" text-anchor="middle" fill="#222" stroke="#222" stroke-width="0.14" >1200</text>
<text x="477.25" y="288.40" font-size="7.3" text-anchor="middle" fill="#222" stroke="#222" stroke-width="0.14" >1400</text>
<text x="501.40" y="288.40" font-size="7.3" text-anchor="middle" fill="#222" stroke="#222" stroke-width="0.14" >1600</text>
<text x="457.20" y="310.40" font-size="7.2" text-anchor="start" fill="#222" stroke="#222" stroke-width="0.14" textLength="52" lengthAdjust="spacingAndGlyphs" >MIPE 5.0 drugs,</text>
<text x="457.20" y="319.40" font-size="7.2" text-anchor="start" fill="#222" stroke="#222" stroke-width="0.14" textLength="55" lengthAdjust="spacingAndGlyphs" >good curve class</text>
<text x="351.50" y="358.20" font-size="7.6" text-anchor="start" fill="#111" stroke="#111" stroke-width="0.14" textLength="82.7" lengthAdjust="spacingAndGlyphs" style="stroke-width:0.45px">Sensitization by SHIN1</text>
<text x="353.80" y="367.30" font-size="7.2" text-anchor="start" fill="#222" stroke="#222" stroke-width="0.14" textLength="43.9" lengthAdjust="spacingAndGlyphs" >Rel. potency</text>
<polygon points="346.2,375 407,369.2 407,375" fill="#000"/>
<text x="347.10" y="397.00" font-size="7.2" text-anchor="end" fill="#222" stroke="#222" stroke-width="0.14" textLength="15.3" lengthAdjust="spacingAndGlyphs" transform="rotate(90 347.10 397.00)" >3.00</text>
<text x="355.85" y="397.00" font-size="7.2" text-anchor="end" fill="#222" stroke="#222" stroke-width="0.14" textLength="15.3" lengthAdjust="spacingAndGlyphs" transform="rotate(90 355.85 397.00)" >2.00</text>
<text x="364.60" y="397.00" font-size="7.2" text-anchor="end" fill="#222" stroke="#222" stroke-width="0.14" textLength="15.3" lengthAdjust="spacingAndGlyphs" transform="rotate(90 364.60 397.00)" >1.00</text>
<text x="373.35" y="397.00" font-size="7.2" text-anchor="end" fill="#222" stroke="#222" stroke-width="0.14" textLength="15.3" lengthAdjust="spacingAndGlyphs" transform="rotate(90 373.35 397.00)" >0.00</text>
<text x="382.10" y="397.00" font-size="7.2" text-anchor="end" fill="#222" stroke="#222" stroke-width="0.14" textLength="19.5" lengthAdjust="spacingAndGlyphs" transform="rotate(90 382.10 397.00)" >–1.00</text>
<text x="390.85" y="397.00" font-size="7.2" text-anchor="end" fill="#222" stroke="#222" stroke-width="0.14" textLength="19.5" lengthAdjust="spacingAndGlyphs" transform="rotate(90 390.85 397.00)" >–2.00</text>
<text x="399.60" y="397.00" font-size="7.2" text-anchor="end" fill="#222" stroke="#222" stroke-width="0.14" textLength="19.5" lengthAdjust="spacingAndGlyphs" transform="rotate(90 399.60 397.00)" >–3.00</text>
<rect x="346.20" y="399.00" width="8.70" height="8.70" fill="#1d4f8c" />
<rect x="354.85" y="399.00" width="8.70" height="8.70" fill="#4c6ea4" />
<rect x="363.50" y="399.00" width="8.70" height="8.70" fill="#8a9ec8" />
<rect x="372.15" y="399.00" width="8.70" height="8.70" fill="#ffffff" />
<rect x="380.80" y="399.00" width="8.70" height="8.70" fill="#ee9088" />
<rect x="389.45" y="399.00" width="8.70" height="8.70" fill="#e05a58" />
<rect x="398.10" y="399.00" width="8.70" height="8.70" fill="#c8102e" />
<text x="339.40" y="407.00" font-size="7.2" text-anchor="end" fill="#222" stroke="#222" stroke-width="0.14" textLength="22" lengthAdjust="spacingAndGlyphs" >Z-AUC</text>
<rect x="427.10" y="379.80" width="10.20" height="10.90" fill="#c81a30" />
<rect x="427.10" y="390.70" width="10.20" height="10.90" fill="#dc5658" />
<rect x="427.10" y="401.60" width="10.20" height="10.90" fill="#ea8c84" />
<text x="422.60" y="413.50" font-size="7" text-anchor="start" fill="#333" stroke="#333" stroke-width="0.14" textLength="35" lengthAdjust="spacingAndGlyphs" transform="rotate(-90 422.60 413.50)" >Dif. Z-AUC</text>
<text x="315.70" y="423.00" font-size="7.2" text-anchor="middle" fill="#222" stroke="#222" stroke-width="0.14" textLength="23" lengthAdjust="spacingAndGlyphs" >DMSO</text>
<text x="350.40" y="423.00" font-size="7.2" text-anchor="middle" fill="#222" stroke="#222" stroke-width="0.14" textLength="25.4" lengthAdjust="spacingAndGlyphs" >100 nM</text>
<text x="385.10" y="423.00" font-size="7.2" text-anchor="middle" fill="#222" stroke="#222" stroke-width="0.14" textLength="25.4" lengthAdjust="spacingAndGlyphs" >250 nM</text>
<text x="295.20" y="467.70" font-size="7" text-anchor="start" fill="#333" stroke="#333" stroke-width="0.14" textLength="43.8" lengthAdjust="spacingAndGlyphs" transform="rotate(-90 295.20 467.70)" >Selected HITs</text>
<rect x="299.60" y="426.20" width="33.50" height="8.00" fill="#f8ccd0" />
<rect x="333.10" y="426.20" width="33.50" height="8.00" fill="#f4a2a8" />
<rect x="366.60" y="426.20" width="33.80" height="8.00" fill="#f08c92" />
<line x1="333.10" y1="426.20" x2="333.10" y2="434.20" stroke="#ffffff" stroke-width="0.4" stroke-opacity="0.6"/>
<line x1="366.60" y1="426.20" x2="366.60" y2="434.20" stroke="#ffffff" stroke-width="0.4" stroke-opacity="0.6"/>
<line x1="299.60" y1="426.20" x2="400.40" y2="426.20" stroke="#ffffff" stroke-width="0.4" stroke-opacity="0.6"/>
<rect x="299.60" y="434.20" width="33.50" height="8.10" fill="#f07078" />
<rect x="333.10" y="434.20" width="33.50" height="8.10" fill="#ea5860" />
<rect x="366.60" y="434.20" width="33.80" height="8.10" fill="#e84a52" />
<line x1="333.10" y1="434.20" x2="333.10" y2="442.30" stroke="#ffffff" stroke-width="0.4" stroke-opacity="0.6"/>
<line x1="366.60" y1="434.20" x2="366.60" y2="442.30" stroke="#ffffff" stroke-width="0.4" stroke-opacity="0.6"/>
<line x1="299.60" y1="434.20" x2="400.40" y2="434.20" stroke="#ffffff" stroke-width="0.4" stroke-opacity="0.6"/>
<rect x="299.60" y="448.10" width="33.50" height="8.10" fill="#f0949a" />
<rect x="333.10" y="448.10" width="33.50" height="8.10" fill="#f08088" />
<rect x="366.60" y="448.10" width="33.80" height="8.10" fill="#ee6c74" />
<line x1="333.10" y1="448.10" x2="333.10" y2="456.20" stroke="#ffffff" stroke-width="0.4" stroke-opacity="0.6"/>
<line x1="366.60" y1="448.10" x2="366.60" y2="456.20" stroke="#ffffff" stroke-width="0.4" stroke-opacity="0.6"/>
<line x1="299.60" y1="448.10" x2="400.40" y2="448.10" stroke="#ffffff" stroke-width="0.4" stroke-opacity="0.6"/>
<rect x="299.60" y="456.20" width="33.50" height="8.80" fill="#f07078" />
<rect x="333.10" y="456.20" width="33.50" height="8.80" fill="#ea4c54" />
<rect x="366.60" y="456.20" width="33.80" height="8.80" fill="#e83c44" />
<line x1="333.10" y1="456.20" x2="333.10" y2="465.00" stroke="#ffffff" stroke-width="0.4" stroke-opacity="0.6"/>
<line x1="366.60" y1="456.20" x2="366.60" y2="465.00" stroke="#ffffff" stroke-width="0.4" stroke-opacity="0.6"/>
<line x1="299.60" y1="456.20" x2="400.40" y2="456.20" stroke="#ffffff" stroke-width="0.4" stroke-opacity="0.6"/>
<rect x="409.60" y="426.20" width="13.40" height="8.00" fill="#e84048" />
<line x1="409.60" y1="426.20" x2="423.00" y2="426.20" stroke="#ffffff" stroke-width="0.4" stroke-opacity="0.6"/>
<rect x="409.60" y="434.20" width="13.40" height="8.10" fill="#ee5c62" />
<line x1="409.60" y1="434.20" x2="423.00" y2="434.20" stroke="#ffffff" stroke-width="0.4" stroke-opacity="0.6"/>
<rect x="409.60" y="448.10" width="13.40" height="8.10" fill="#f07076" />
<line x1="409.60" y1="448.10" x2="423.00" y2="448.10" stroke="#ffffff" stroke-width="0.4" stroke-opacity="0.6"/>
<rect x="409.60" y="456.20" width="13.40" height="8.80" fill="#f06870" />
<line x1="409.60" y1="456.20" x2="423.00" y2="456.20" stroke="#ffffff" stroke-width="0.4" stroke-opacity="0.6"/>
<text x="425.10" y="432.70" font-size="7.2" text-anchor="start" fill="#222" stroke="#222" stroke-width="0.14" textLength="75.3" lengthAdjust="spacingAndGlyphs" >Pyrimethamine (DHFR)</text>
<text x="425.10" y="441.90" font-size="7.2" text-anchor="start" fill="#222" stroke="#222" stroke-width="0.14" textLength="70" lengthAdjust="spacingAndGlyphs" >Methotrexate (DHFR)</text>
<text x="425.10" y="454.90" font-size="7.2" text-anchor="start" fill="#222" stroke="#222" stroke-width="0.14" textLength="61.5" lengthAdjust="spacingAndGlyphs" >CHIR-124 (CHEK1)</text>
<text x="425.10" y="463.40" font-size="7.2" text-anchor="start" fill="#222" stroke="#222" stroke-width="0.14" textLength="75.8" lengthAdjust="spacingAndGlyphs" >Staurosporine (CHEK1)</text>
<rect x="0.75" y="0.75" width="518.5" height="582.5" fill="none" stroke="#000" stroke-width="1.5"/>
</svg></body></html>
